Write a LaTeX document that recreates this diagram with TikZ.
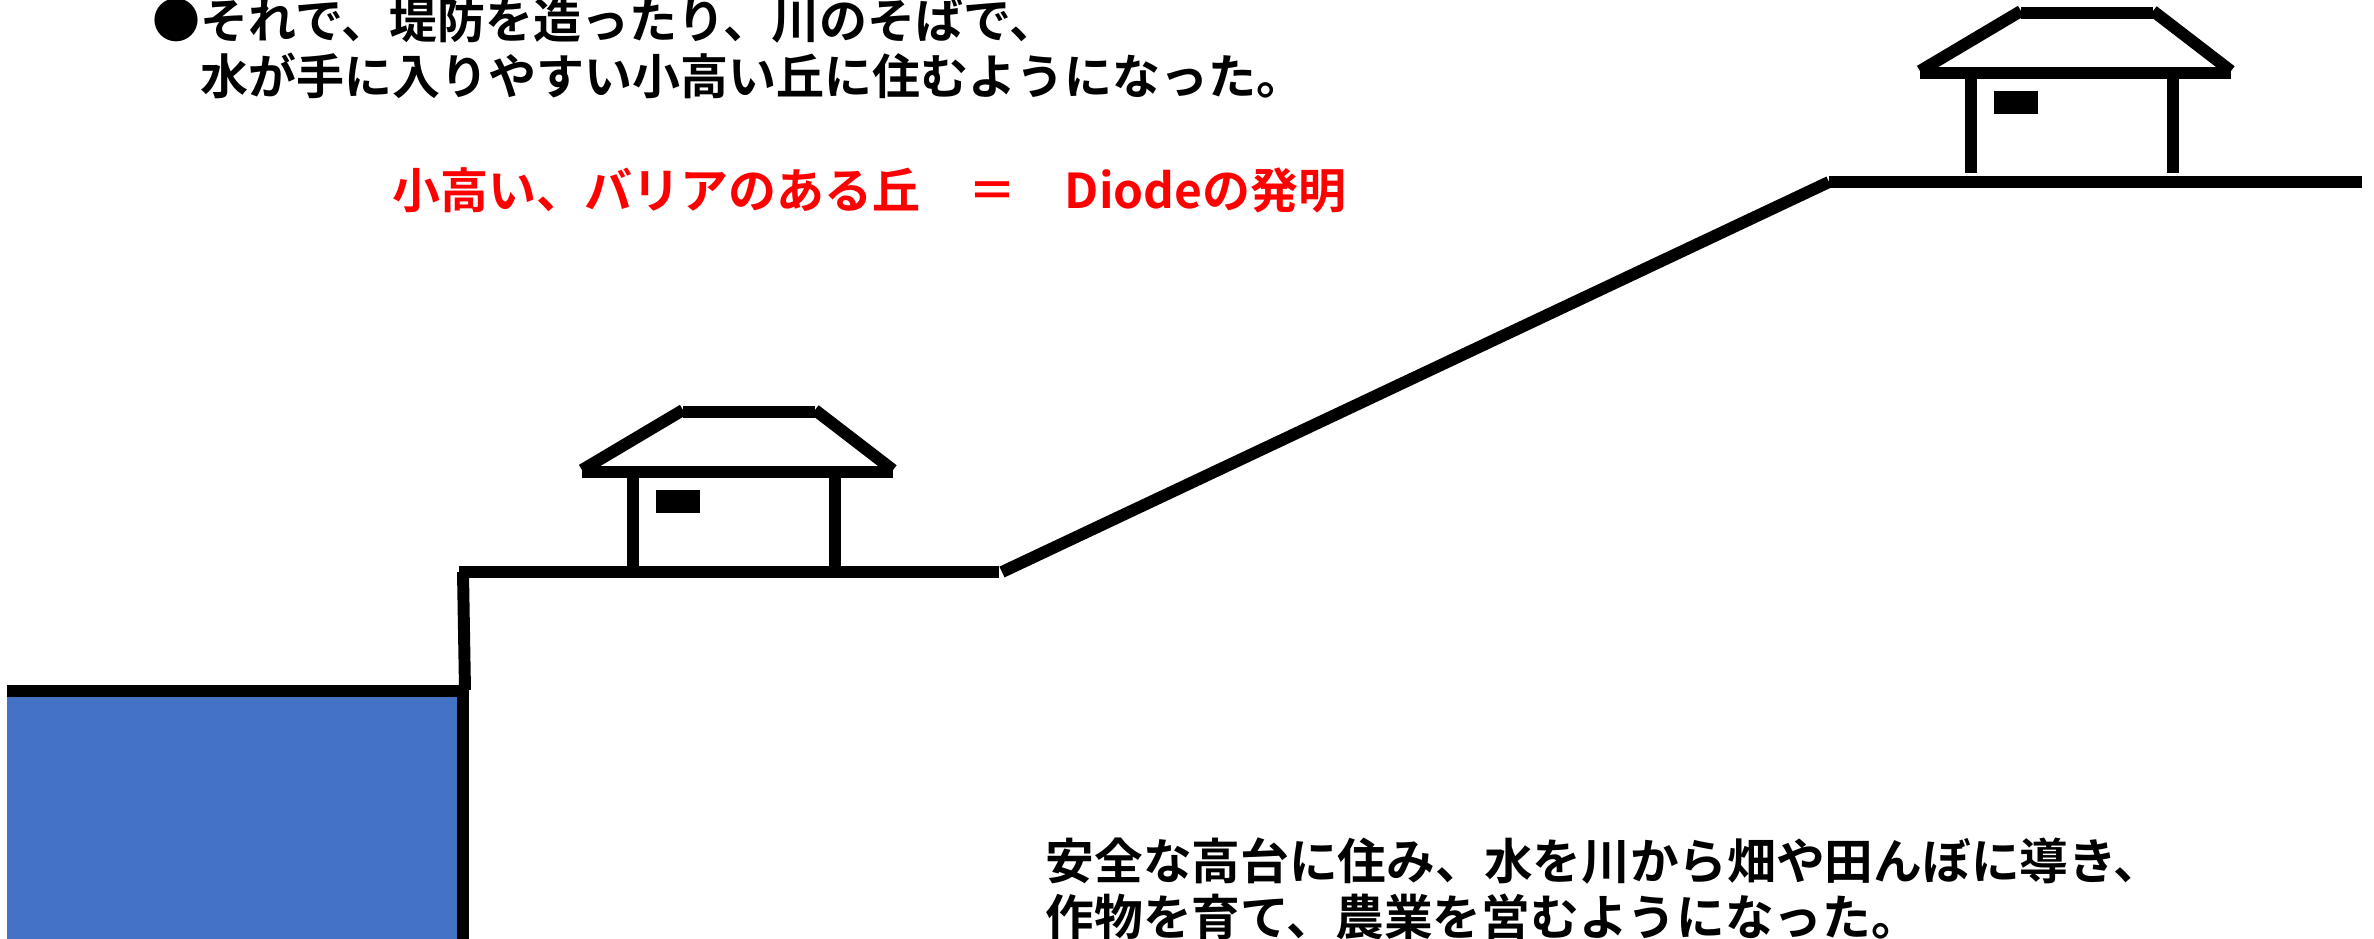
\documentclass[tikz,border=0pt]{standalone}
\usepackage{fontspec}
\newfontfamily\jpfont{Noto Sans CJK JP Bold}

\definecolor{riverBlue}{RGB}{68,114,196}
\definecolor{labelRed}{RGB}{255,0,0}

\tikzset{
  land/.style={line width=3.4pt},
  jptext/.style={anchor=base west,inner sep=0pt,font=\jpfont\fontsize{13.65pt}{16pt}\selectfont},
  jpbig/.style={jptext,font=\jpfont\fontsize{13.85pt}{16pt}\selectfont},
}

% a small house, placed by the left end of its eave
\newcommand{\hut}[2]{%
  \begin{scope}[shift={(#1,#2)}]
    \draw[land] (0,0) -- (311,0);
    \draw[land] (0,-2) -- (101,-62);
    \draw[land] (101,-60) -- (233,-60);
    \draw[land] (233,-62) -- (311,-2);
    \draw[land] (51,0) -- (51,100);
    \draw[land] (253,0) -- (253,100);
    \fill (74,18) rectangle (118,41);
  \end{scope}}

\begin{document}
\begin{tikzpicture}[x=0.01cm,y=-0.01cm]
  \useasboundingbox (0,0) rectangle (2374,939);

  % river
  \fill[riverBlue] (7,691) rectangle (463,939);
  \draw[land] (7,691) -- (469,691);
  \draw[land] (463,685) -- (463,939);

  % bank, hill and plateau
  \draw[land] (463,572) -- (465,690);
  \draw[land] (459,572) -- (999,572);
  \draw[land] (1002,572) -- (1829,182);
  \draw[land] (1829,182) -- (2362,182);

  \hut{582}{472}
  \hut{1920}{73}

  \node[jptext] (intro1) at (152,38) {●それで、堤防を造ったり、川のそばで、};
  \node[jptext] (intro2) at (200,94) {水が手に入りやすい小高い丘に住むようになった。};
  \node[jptext,text=labelRed] (diode) at (392,208) {小高い、バリアのある丘　＝　Diodeの発明};
  \node[jpbig] (farm1) at (1045,879) {安全な高台に住み、水を川から畑や田んぼに導き、};
  \node[jpbig] (farm2) at (1045,935) {作物を育て、農業を営むようになった。};
\end{tikzpicture}
\end{document}
